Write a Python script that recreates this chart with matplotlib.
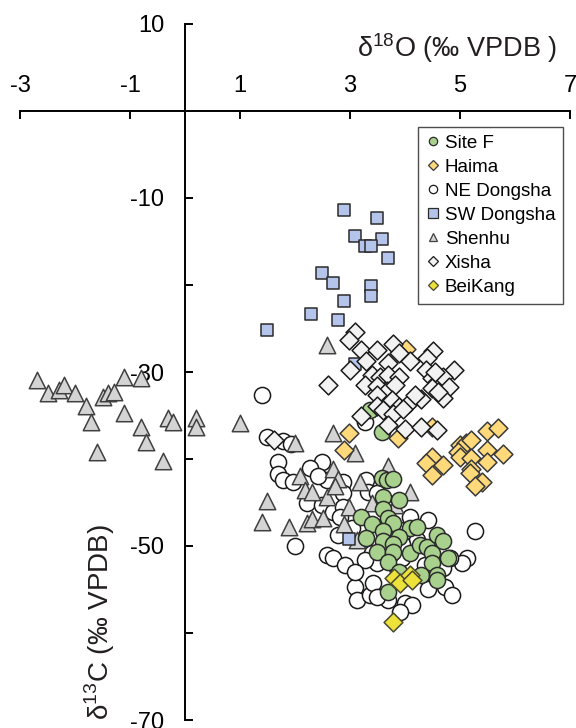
import matplotlib
matplotlib.use("Agg")
import matplotlib.pyplot as plt
from matplotlib.lines import Line2D

plt.rcParams["font.family"] = ["Liberation Sans", "DejaVu Sans"]
plt.rcParams["mathtext.fontset"] = "custom"
plt.rcParams["mathtext.rm"] = "Liberation Sans"
plt.rcParams["axes.unicode_minus"] = False

# (d18O, d13C) pairs
site_f = [(3.58, -42.2), (3.67, -42.4), (3.78, -42.3), (3.60, -44.4), (3.89, -44.7),
          (3.60, -45.7), (3.20, -46.7), (3.69, -46.8), (3.40, -47.5), (3.78, -47.4),
          (3.60, -48.3), (4.09, -47.9), (4.22, -47.8), (3.29, -49.1), (3.60, -49.4),
          (3.89, -49.0), (3.78, -49.8), (3.49, -50.7), (3.78, -50.7), (4.09, -50.8),
          (4.27, -49.9), (4.40, -50.1), (4.49, -50.8), (4.58, -48.7), (4.69, -49.4),
          (4.78, -51.4), (4.49, -52.0), (3.69, -51.8), (3.89, -53.0), (4.29, -53.3),
          (4.58, -53.3), (4.58, -53.9), (3.69, -55.3), (3.58, -36.9), (3.36, -34.4)]

haima = [(4.02, -27.4), (2.98, -37.0), (2.89, -39.0), (3.87, -37.6), (4.49, -36.3),
         (5.49, -36.8), (5.69, -36.4), (4.49, -39.8), (4.38, -40.5), (4.69, -40.7),
         (4.49, -41.8), (5.00, -38.4), (5.11, -38.2), (5.20, -37.8), (4.96, -39.2),
         (5.00, -39.8), (5.20, -39.9), (5.49, -39.0), (5.78, -39.4), (5.49, -40.3),
         (5.20, -41.1), (5.18, -41.6), (5.40, -42.6), (5.27, -43.1)]

ne_dongsha = [(1.40, -32.6), (1.49, -37.5), (1.78, -37.9), (1.93, -38.3), (1.69, -40.3),
              (2.49, -40.3), (2.27, -41.0), (1.69, -41.7), (1.78, -42.4), (1.96, -42.6),
              (2.58, -42.4), (2.87, -42.6), (3.29, -42.4), (3.33, -43.8), (2.87, -43.9),
              (2.22, -45.1), (2.49, -45.3), (2.69, -46.1), (2.87, -45.5), (2.82, -46.7),
              (3.49, -43.9), (2.78, -48.7), (2.00, -50.0), (2.58, -51.0), (2.69, -51.4),
              (2.91, -52.2), (4.09, -46.7), (4.42, -47.0), (5.27, -48.3), (3.09, -54.7),
              (3.13, -56.2), (3.36, -55.6), (3.42, -54.3), (3.69, -56.2), (4.00, -56.6),
              (4.13, -56.8), (3.91, -57.6), (4.42, -54.9), (4.73, -54.7), (4.85, -55.6),
              (5.13, -51.4), (5.04, -52.0), (4.82, -51.4), (4.69, -52.5), (4.40, -52.5),
              (4.45, -53.0), (3.85, -52.5), (3.95, -51.4), (3.40, -50.8), (3.73, -51.0),
              (3.49, -52.0), (3.27, -35.7), (3.49, -55.9), (3.91, -48.2), (4.22, -49.3),
              (4.36, -52.2), (3.64, -47.6), (3.95, -49.8), (3.27, -51.6), (3.04, -47.9),
              (3.09, -53.0), (2.42, -42.0)]

sw_dongsha = [(2.89, -11.4), (3.49, -12.3), (3.09, -14.4), (3.58, -14.7), (3.27, -15.5),
              (3.38, -15.5), (3.69, -16.9), (2.49, -18.6), (2.69, -19.8), (3.38, -20.1),
              (3.38, -21.3), (2.89, -21.8), (2.29, -23.3), (2.78, -24.0), (1.49, -25.2),
              (3.09, -29.1), (2.98, -49.2)]

shenhu = [(-2.69, -30.9), (-2.49, -32.4), (-2.29, -32.1), (-2.20, -31.5), (-2.00, -32.4),
          (-1.80, -33.9), (-1.71, -35.7), (-1.60, -39.2), (-1.49, -32.9), (-1.40, -32.4),
          (-1.29, -32.3), (-1.11, -30.6), (-1.11, -34.7), (-0.80, -30.7), (-0.80, -36.3),
          (-0.71, -38.0), (-0.40, -40.2), (-0.31, -35.3), (-0.22, -35.7), (0.20, -35.3),
          (0.20, -36.3), (1.00, -35.9), (1.49, -44.8), (1.40, -47.2), (2.58, -26.9),
          (2.69, -37.0), (3.09, -39.3), (3.69, -40.8), (2.00, -38.2), (2.69, -41.1),
          (2.09, -42.0), (2.78, -42.3), (3.18, -42.6), (2.18, -43.6), (2.31, -43.8),
          (2.58, -44.4), (3.40, -45.1), (2.98, -45.5), (1.89, -47.8), (2.22, -47.4),
          (2.31, -46.9), (2.51, -46.8), (2.89, -47.5), (4.09, -43.8), (3.82, -45.3),
          (2.73, -43.1), (3.13, -49.3)]

xisha = [(3.09, -25.4), (2.98, -26.3), (3.20, -27.5), (3.49, -27.5), (3.78, -26.8),
         (3.89, -27.8), (4.09, -28.7), (3.29, -28.7), (3.00, -29.8), (3.69, -29.0),
         (2.60, -31.5), (4.51, -27.6), (4.40, -28.4), (4.38, -29.8), (4.89, -29.8),
         (3.40, -30.3), (3.27, -31.5), (3.55, -30.6), (3.69, -30.3), (3.89, -30.6),
         (3.49, -31.6), (3.67, -32.2), (3.82, -31.5), (4.49, -30.7), (4.58, -31.1),
         (4.69, -30.6), (4.80, -31.7), (4.49, -31.8), (4.69, -33.0), (4.60, -32.3),
         (3.49, -32.6), (3.76, -33.2), (3.89, -34.0), (4.07, -33.6), (4.29, -33.1),
         (4.18, -32.6), (3.49, -33.9), (3.60, -34.4), (3.20, -35.1), (3.78, -34.8),
         (3.69, -36.1), (4.00, -36.6), (4.29, -36.3), (4.58, -36.7), (1.62, -37.8),
         (3.96, -34.3), (4.55, -30.0)]

beikang = [(3.80, -53.7), (3.91, -54.3), (4.09, -53.3), (4.13, -53.9), (3.78, -58.7)]

x_ticks = [-3, -1, 1, 3, 5, 7]
y_ticks = [10, -10, -30, -50, -70]
y_minor = [-20, -40, -60]

# name, data, marker, size, face, edge, draw order
series = [
    ("NE Dongsha", ne_dongsha, "o", 135, "white", "#1a1a1a", 2),
    ("Shenhu", shenhu, "^", 140, "#d4d4d4", "#404040", 3),
    ("Site F", site_f, "o", 135, "#a9d18e", "#2b2b2b", 4),
    ("Haima", haima, "D", 92, "#ffd97a", "#3a3a3a", 5),
    ("SW Dongsha", sw_dongsha, "s", 85, "#b4c4ea", "#2b2b2b", 6),
    ("Xisha", xisha, "D", 92, "#f2f2f2", "#1a1a1a", 7),
    ("BeiKang", beikang, "D", 92, "#ece23a", "#4a4a30", 8),
]
legend_order = ["Site F", "Haima", "NE Dongsha", "SW Dongsha", "Shenhu", "Xisha", "BeiKang"]

fig = plt.figure(figsize=(5.76, 7.28), dpi=100)
ax = fig.add_axes([20 / 576, 8 / 728, 550 / 576, 696 / 728])

handles = {}
for name, pts, mk, size, fc, ec, z in series:
    xs = [p[0] for p in pts]
    ys = [p[1] for p in pts]
    ax.scatter(xs, ys, marker=mk, s=size, facecolor=fc, edgecolor=ec,
               linewidths=1.1, zorder=z)
    ms = {"o": 6, "^": 6, "s": 7, "D": 5}[mk]
    handles[name] = Line2D([], [], marker=mk, linestyle="none", markersize=ms,
                           markerfacecolor=fc, markeredgecolor=ec, markeredgewidth=0.9)

ax.set_xlim(-3, 7)
ax.set_ylim(-70, 10)

ax.spines["left"].set_position(("data", 0))
ax.spines["top"].set_position(("data", 0))
ax.spines["right"].set_visible(False)
ax.spines["bottom"].set_visible(False)
for s in ["left", "top"]:
    ax.spines[s].set_linewidth(1.4)
    ax.spines[s].set_zorder(1)

ax.xaxis.set_ticks_position("top")
ax.yaxis.set_ticks_position("left")
ax.set_xticks(x_ticks)
ax.set_yticks(y_ticks)
ax.set_yticks(y_minor, minor=True)
ax.set_yticklabels([str(t) for t in y_ticks])
ax.tick_params(axis="x", which="both", direction="in", length=6, width=1.4,
               labelsize=17, pad=10)
ax.tick_params(axis="y", which="both", direction="in", length=6, width=1.4,
               labelsize=17, pad=15)

fig.text(457 / 576, 1 - 48 / 728, "δ$^{18}$O (‰ VPDB )", fontsize=19.5,
         ha="center", va="center", color="#231f20")
fig.text(100 / 576, 1 - 622 / 728, "δ$^{13}$C (‰ VPDB)", fontsize=20,
         ha="center", va="center", rotation=90, color="#231f20")

leg = ax.legend([handles[n] for n in legend_order], legend_order,
                loc="upper right", bbox_to_anchor=(563 / 576, 1 - 127 / 728),
                bbox_transform=fig.transFigure, borderaxespad=0, fontsize=13.5,
                frameon=True, fancybox=False, handlelength=0.8, handletextpad=0.25,
                labelspacing=0.37, borderpad=0.4)
leg.get_frame().set_edgecolor("#231f20")
leg.get_frame().set_linewidth(1.0)
leg.set_zorder(10)

fig.savefig("out.png", dpi=100)
